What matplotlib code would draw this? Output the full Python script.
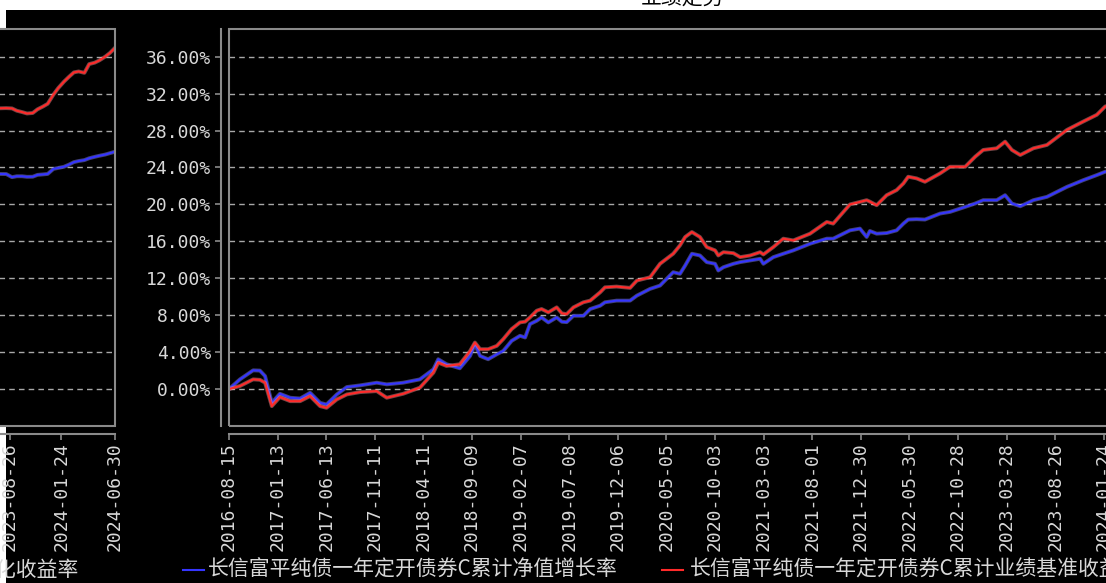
import matplotlib
matplotlib.use('Agg')
import matplotlib.pyplot as plt
import matplotlib.patheffects as pe
from matplotlib.patches import Rectangle
from matplotlib.lines import Line2D
import pandas as pd

plt.rcParams['font.family'] = ['Noto Sans CJK SC', 'DejaVu Sans']

# 数据
title = '业绩走势'
legend_labels = ['长信富平纯债一年定开债券C累计净值增长率',
                 '长信富平纯债一年定开债券C累计业绩基准收益率']
side_label = '年化收益率'

main_dates = ['2016-08-15', '2016-09-18', '2016-10-29', '2016-11-19', '2016-12-05', '2016-12-26',
              '2017-01-20', '2017-02-21', '2017-03-24', '2017-04-24', '2017-05-25', '2017-06-14',
              '2017-07-16', '2017-08-16', '2017-09-26', '2017-11-17', '2017-12-18', '2018-02-07',
              '2018-03-31', '2018-05-12', '2018-05-27', '2018-06-22', '2018-08-02', '2018-09-03',
              '2018-09-18', '2018-10-04', '2018-10-29', '2018-11-25', '2018-12-15', '2019-01-10',
              '2019-02-05', '2019-02-21', '2019-03-08', '2019-03-29', '2019-04-13', '2019-05-04',
              '2019-05-30', '2019-06-15', '2019-06-30', '2019-07-21', '2019-08-21', '2019-09-11',
              '2019-10-12', '2019-10-27', '2019-12-02', '2020-01-13', '2020-02-03', '2020-03-15',
              '2020-04-15', '2020-05-26', '2020-06-16', '2020-07-02', '2020-07-23', '2020-08-17',
              '2020-09-07', '2020-10-03', '2020-10-13', '2020-10-29', '2020-11-29', '2020-12-20',
              '2021-01-20', '2021-02-20', '2021-03-02', '2021-04-02', '2021-05-03', '2021-06-03',
              '2021-07-25', '2021-09-15', '2021-10-05', '2021-11-26', '2021-12-27', '2022-01-17',
              '2022-01-27', '2022-02-17', '2022-03-20', '2022-04-20', '2022-05-11', '2022-05-26',
              '2022-06-21', '2022-07-17', '2022-09-02', '2022-10-03', '2022-11-19', '2022-12-20',
              '2023-01-14', '2023-02-25', '2023-03-23', '2023-04-13', '2023-05-09', '2023-06-19',
              '2023-07-31', '2023-10-01', '2023-11-21', '2024-01-02', '2024-01-28', '2024-04-14']

fund_nav = [0, 1.05, 2.03, 2.0, 1.41, -1.49, -0.51, -0.94, -1.02, -0.40,
            -1.49, -1.67, -0.58, 0.22, 0.40, 0.69, 0.51, 0.69, 1.05, 2.14,
            3.23, 2.69, 2.25, 3.59, 4.86, 3.59, 3.23, 3.77, 4.13, 5.22,
            5.77, 5.59, 7.04, 7.40, 7.76, 7.22, 7.76, 7.29, 7.25, 7.94,
            7.94, 8.67, 9.03, 9.40, 9.58, 9.58, 10.12, 10.85, 11.21, 12.66,
            12.48, 13.38, 14.66, 14.47, 13.75, 13.57, 12.84, 13.20, 13.57, 13.75,
            13.93, 14.11, 13.57, 14.29, 14.66, 15.02, 15.74, 16.29, 16.29, 17.19,
            17.38, 16.47, 17.12, 16.83, 16.90, 17.19, 17.92, 18.36, 18.40, 18.36,
            19.01, 19.19, 19.73, 20.10, 20.46, 20.46, 21.00, 20.10, 19.80, 20.46,
            20.82, 21.90, 22.63, 23.18, 23.54, 23.90]

benchmark = [0, 0.33, 1.05, 1.0, 0.69, -1.85, -0.87, -1.31, -1.31, -0.76,
             -1.85, -2.03, -1.12, -0.58, -0.33, -0.22, -0.94, -0.51, 0.15, 1.78,
             2.87, 2.50, 2.69, 4.13, 5.04, 4.32, 4.32, 4.68, 5.41, 6.50,
             7.22, 7.30, 7.76, 8.49, 8.67, 8.31, 8.85, 8.20, 8.12, 8.85,
             9.40, 9.58, 10.48, 11.02, 11.10, 10.96, 11.75, 12.11, 13.57, 14.66,
             15.56, 16.47, 17.01, 16.47, 15.38, 15.02, 14.47, 14.83, 14.72, 14.29,
             14.47, 14.83, 14.58, 15.38, 16.29, 16.10, 16.83, 18.10, 17.92, 20.00,
             20.27, 20.46, 20.30, 19.91, 21.00, 21.55, 22.27, 23.00, 22.82, 22.45,
             23.36, 24.08, 24.08, 25.17, 25.90, 26.08, 26.80, 25.90, 25.35, 26.08,
             26.44, 28.07, 28.98, 29.71, 30.61, 31.40]

main_ticks = ['2016-08-15', '2017-01-13', '2017-06-13', '2017-11-11', '2018-04-11',
              '2018-09-09', '2019-02-07', '2019-07-08', '2019-12-06', '2020-05-05',
              '2020-10-03', '2021-03-03', '2021-08-01', '2021-12-30', '2022-05-30',
              '2022-10-28', '2023-03-28', '2023-08-26', '2024-01-24']

# 左侧残留小图
side_dates = ['2023-07-15', '2023-08-15', '2023-09-01', '2023-09-15', '2023-10-01', '2023-10-15',
              '2023-11-01', '2023-11-15', '2023-12-01', '2023-12-15', '2024-01-01', '2024-01-15',
              '2024-02-01', '2024-02-15', '2024-03-01', '2024-03-15', '2024-04-01', '2024-04-15',
              '2024-05-01', '2024-05-15', '2024-06-01', '2024-06-15', '2024-06-30']
side_bench = [30.4, 30.43, 30.4, 30.15, 30.0, 29.85, 29.9, 30.3, 30.6, 30.9, 31.9, 32.6,
              33.3, 33.8, 34.3, 34.4, 34.25, 35.2, 35.35, 35.6, 36.0, 36.4, 36.96]
side_nav = [23.3, 23.29, 22.95, 23.05, 23.05, 22.99, 23.0, 23.2, 23.25, 23.3, 23.85, 23.95,
            24.08, 24.3, 24.58, 24.7, 24.8, 25.0, 25.15, 25.27, 25.4, 25.55, 25.71]
side_ticks = ['2023-08-26', '2024-01-24', '2024-06-30']

ytick_vals = [0, 4, 8, 12, 16, 20, 24, 28, 32, 36]
ytick_labels = ['%.2f%%' % v for v in ytick_vals]

# 样式
W, H = 1106, 583
FRAME = '#8a8a8a'
GRID = '#a8a8a8'
TXT = '#d8d8d8'
BLUE = '#3535ff'
RED = '#ff2a2a'
MONO = 'DejaVu Sans Mono'


def fx(px):
    return px / W


def fy(py):
    return 1 - py / H


fig = plt.figure(figsize=(W / 100, H / 100), dpi=100, facecolor='white')
fig.add_artist(Rectangle((fx(6), 0), 1 - fx(6), fy(10), transform=fig.transFigure,
                         facecolor='black', edgecolor='none', zorder=-10))


def style(a, tick_list):
    a.set_facecolor('black')
    a.set_ylim(-4, 39)
    a.set_yticks(ytick_vals)
    a.yaxis.grid(True, color=GRID, linestyle=(0, (4, 3)), linewidth=1)
    a.set_axisbelow(True)
    for s in a.spines.values():
        s.set_visible(False)
    a.add_patch(Rectangle((0, 0), 1, 1, transform=a.transAxes, fill=False,
                          edgecolor=FRAME, lw=1.5, clip_on=False, zorder=5))
    a.spines['bottom'].set_visible(True)
    a.spines['bottom'].set_position(('outward', 6))
    a.spines['bottom'].set_color(FRAME)
    a.spines['bottom'].set_linewidth(1.5)
    a.set_xticks(pd.to_datetime(tick_list))
    a.set_xticklabels(tick_list, rotation=90, fontfamily=MONO)
    a.tick_params(axis='x', direction='out', length=4, width=1.2, color=FRAME,
                  labelcolor=TXT, labelsize=13, pad=2)


def draw_lines(a, d, nav, bench):
    x = pd.to_datetime(d)
    a.plot(x, nav, color=BLUE, lw=1.5, zorder=3,
           path_effects=[pe.Stroke(linewidth=2.8, foreground='#9090ff', alpha=0.45), pe.Normal()])
    a.plot(x, bench, color=RED, lw=1.5, zorder=4,
           path_effects=[pe.Stroke(linewidth=2.8, foreground='#ff9a9a', alpha=0.45), pe.Normal()])


# 主图（右侧超出画面）
ax = fig.add_axes([fx(229), fy(426), fx(1130) - fx(229), fy(29) - fy(426)])
style(ax, main_ticks)
ax.set_xlim(pd.Timestamp('2016-08-15'), pd.Timestamp('2024-04-14'))
ax.spines['left'].set_visible(True)
ax.spines['left'].set_position(('outward', 6))
ax.spines['left'].set_color(FRAME)
ax.spines['left'].set_linewidth(1.5)
ax.set_yticklabels(ytick_labels, fontfamily=MONO)
ax.tick_params(axis='y', direction='out', length=4, width=1.2, color=FRAME,
               labelcolor=TXT, labelsize=13, pad=3)
draw_lines(ax, main_dates, fund_nav, benchmark)

# 左侧小图（左侧超出画面）
ax2 = fig.add_axes([fx(-133.5), fy(426), fx(248.5), fy(29) - fy(426)])
style(ax2, side_ticks)
ax2.set_xlim(pd.Timestamp('2022-06-30'), pd.Timestamp('2024-06-30'))
ax2.tick_params(axis='y', left=False, labelleft=False)
draw_lines(ax2, side_dates, side_nav, side_bench)

# 图例
fig.add_artist(Line2D([fx(183), fx(204)], [fy(570), fy(570)], transform=fig.transFigure,
                      color=BLUE, lw=1.5))
fig.text(fx(208), fy(570), legend_labels[0], ha='left', va='center', fontsize=15, color=TXT)
fig.add_artist(Line2D([fx(662), fx(683)], [fy(570), fy(570)], transform=fig.transFigure,
                      color=RED, lw=1.5))
fig.text(fx(690), fy(570), legend_labels[1], ha='left', va='center', fontsize=15, color=TXT)
fig.text(fx(78), fy(570), side_label, ha='right', va='center', fontsize=15, color=TXT)

# 标题（只露出下半部分）
fig.text(fx(683), fy(10), title, ha='center', va='bottom', fontsize=15, color='black')

fig.savefig('out.png', dpi=100, facecolor='white')
